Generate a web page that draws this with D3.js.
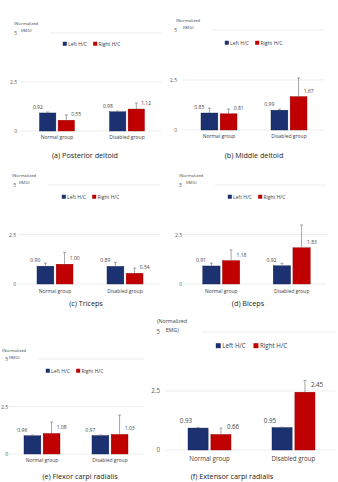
<!DOCTYPE html>
<html><head><meta charset="utf-8">
<script src="https://cdn.jsdelivr.net/npm/d3@7/dist/d3.min.js"></script>
<style>body{margin:0;background:#fff}svg{display:block;font-family:"Open Sans",sans-serif}</style>
</head><body>
<svg id="c" width="338" height="482"></svg>
<script>
const categories = ["Normal group", "Disabled group"];
const seriesNames = ["Left H/C", "Right H/C"];
const tickValues = [0, 2.5, 5];
const tickLabels = ["0", "2.5", "5"];
const titles = ["(a) Posterior deltoid", "(b) Middle deltoid", "(c) Triceps", "(d) Biceps", "(e) Flexor carpi radialis", "(f) Extensor carpi radialis"];
const leftValues  = [[0.92, 0.98], [0.85, 0.99], [0.90, 0.89], [0.91, 0.92], [0.96, 0.97], [0.93, 0.95]];
const rightValues = [[0.55, 1.12], [0.81, 1.67], [1.00, 0.54], [1.18, 1.83], [1.08, 1.03], [0.66, 2.45]];
const leftErrors  = [[0.05, 0.04], [0.24, 0.05], [0.16, 0.20], [0.15, 0.13], [0.04, 0.03], [0.03, 0.02]];
const rightErrors = [[0.27, 0.31], [0.24, 0.93], [0.60, 0.26], [0.54, 1.15], [0.60, 1.02], [0.27, 0.50]];

// layout (pixels)
const layout = [
  {x0:22, x1:162, y0:131, y5:33, tickX:17, emgX:14, emgY:25, legX:92, legY:44, catY:139, titleX:85, titleY:158, bw:35, fs:5},
  {x0:184, x1:324, y0:130, y5:30, tickX:177, emgX:176, emgY:22, legX:254, legY:43, catY:138, titleX:254, titleY:158, bw:36, fs:5},
  {x0:20, x1:160, y0:284, y5:185, tickX:16, emgX:12, emgY:177, legX:91, legY:197, catY:293, titleX:86, titleY:306, bw:36, fs:5},
  {x0:186, x1:327, y0:284, y5:185, tickX:182, emgX:179, emgY:177, legX:257, legY:197, catY:293, titleX:248, titleY:306, bw:37, fs:5},
  {x0:8, x1:144, y0:454, y5:359, tickX:8, emgX:2, emgY:352, legX:75, legY:371, catY:462, titleX:80, titleY:478.5, bw:36, fs:5},
  {x0:167.5, x1:335.5, y0:450, y5:332, tickX:160, emgX:157, emgY:323, legX:252, legY:346, catY:461, titleX:232, titleY:478.5, bw:43, fs:6.2}
];
const colors = ["#1b3170", "#c00000"];
const strokes = ["#0e1d4a", "#8f0000"];

const svg = d3.select("#c");

layout.forEach((L, i) => {
  const g = svg.append("g");
  const y = d3.scaleLinear().domain([0, 5]).range([L.y0, L.y5]);
  const xg = d3.scaleBand().domain(categories).range([L.x0, L.x1]);
  const xs = d3.scaleBand().domain(seriesNames).range([-L.bw/2, L.bw/2]).paddingInner(0.12);
  const fs = L.fs;

  g.selectAll("line.grid").data(tickValues).join("line")
    .attr("x1", L.x0 - 2).attr("x2", L.x1)
    .attr("y1", d => y(d)).attr("y2", d => y(d))
    .attr("stroke", "#e3e3e3").attr("stroke-width", 0.6);

  const ax = g.append("g").attr("transform", `translate(${L.tickX},0)`)
    .call(d3.axisLeft(y).tickValues(tickValues).tickFormat((d, k) => tickLabels[k]).tickSize(0).tickPadding(0));
  ax.select(".domain").remove();
  ax.selectAll("text").attr("font-size", fs).attr("fill", "#595959").attr("font-family", "Open Sans, sans-serif");

  const emg = g.append("g");
  emg.append("rect").attr("x", L.emgX + fs*1.2).attr("y", L.emgY + fs*0.5).attr("width", fs*6).attr("height", fs*1.4).attr("fill", "#fff");
  emg.append("text").attr("x", L.emgX).attr("y", L.emgY).attr("font-size", fs*0.85).attr("fill", "#404040").text("(Normalized");
  emg.append("text").attr("x", L.emgX + fs*1.4).attr("y", L.emgY + fs*1.45).attr("font-size", fs*0.85).attr("fill", "#404040").text("EMG)");

  const leg = g.append("g").attr("transform", `translate(${L.legX},${L.legY})`);
  const sq = fs*0.8, lw = fs*5.6;
  seriesNames.forEach((s, k) => {
    const lx = k === 0 ? -lw - sq*0.3 : sq*0.3;
    leg.append("rect").attr("x", lx).attr("y", -sq/2 - fs*0.05).attr("width", sq).attr("height", sq).attr("fill", colors[k]);
    leg.append("text").attr("x", lx + sq + fs*0.25).attr("y", fs*0.35).attr("font-size", fs).attr("fill", "#404040").text(s);
  });

  const vals = [leftValues[i], rightValues[i]];
  const errs = [leftErrors[i], rightErrors[i]];
  categories.forEach((c, ci) => {
    const cx = xg(c) + xg.bandwidth()/2;
    seriesNames.forEach((s, k) => {
      const v = vals[k][ci], e = errs[k][ci];
      const bx = cx + xs(s), w = xs.bandwidth();
      g.append("rect").attr("x", bx).attr("y", y(v)).attr("width", w).attr("height", y(0) - y(v))
        .attr("fill", colors[k]).attr("stroke", strokes[k]).attr("stroke-width", 0.4);
      const mx = bx + w/2;
      g.append("line").attr("x1", mx).attr("x2", mx).attr("y1", y(v)).attr("y2", y(v + e)).attr("stroke", "#808080").attr("stroke-width", 0.7);
      g.append("line").attr("x1", mx - 1.5).attr("x2", mx + 1.5).attr("y1", y(v + e)).attr("y2", y(v + e)).attr("stroke", "#808080").attr("stroke-width", 0.7);
      const off = (k === 0 ? -1 : 1) * w * 0.6;
      g.append("text").attr("x", mx + off).attr("y", y(v) - fs*0.8).attr("text-anchor", "middle")
        .attr("font-size", fs).attr("fill", "#404040").text(v.toFixed(2));
    });
    g.append("text").attr("x", cx).attr("y", L.catY).attr("text-anchor", "middle").attr("font-size", fs).attr("fill", "#404040").text(c);
  });

  g.append("text").attr("x", L.titleX).attr("y", L.titleY).attr("text-anchor", "middle").attr("font-size", 7.2).attr("fill", "#222").text(titles[i]);
});
</script>
</body></html>
